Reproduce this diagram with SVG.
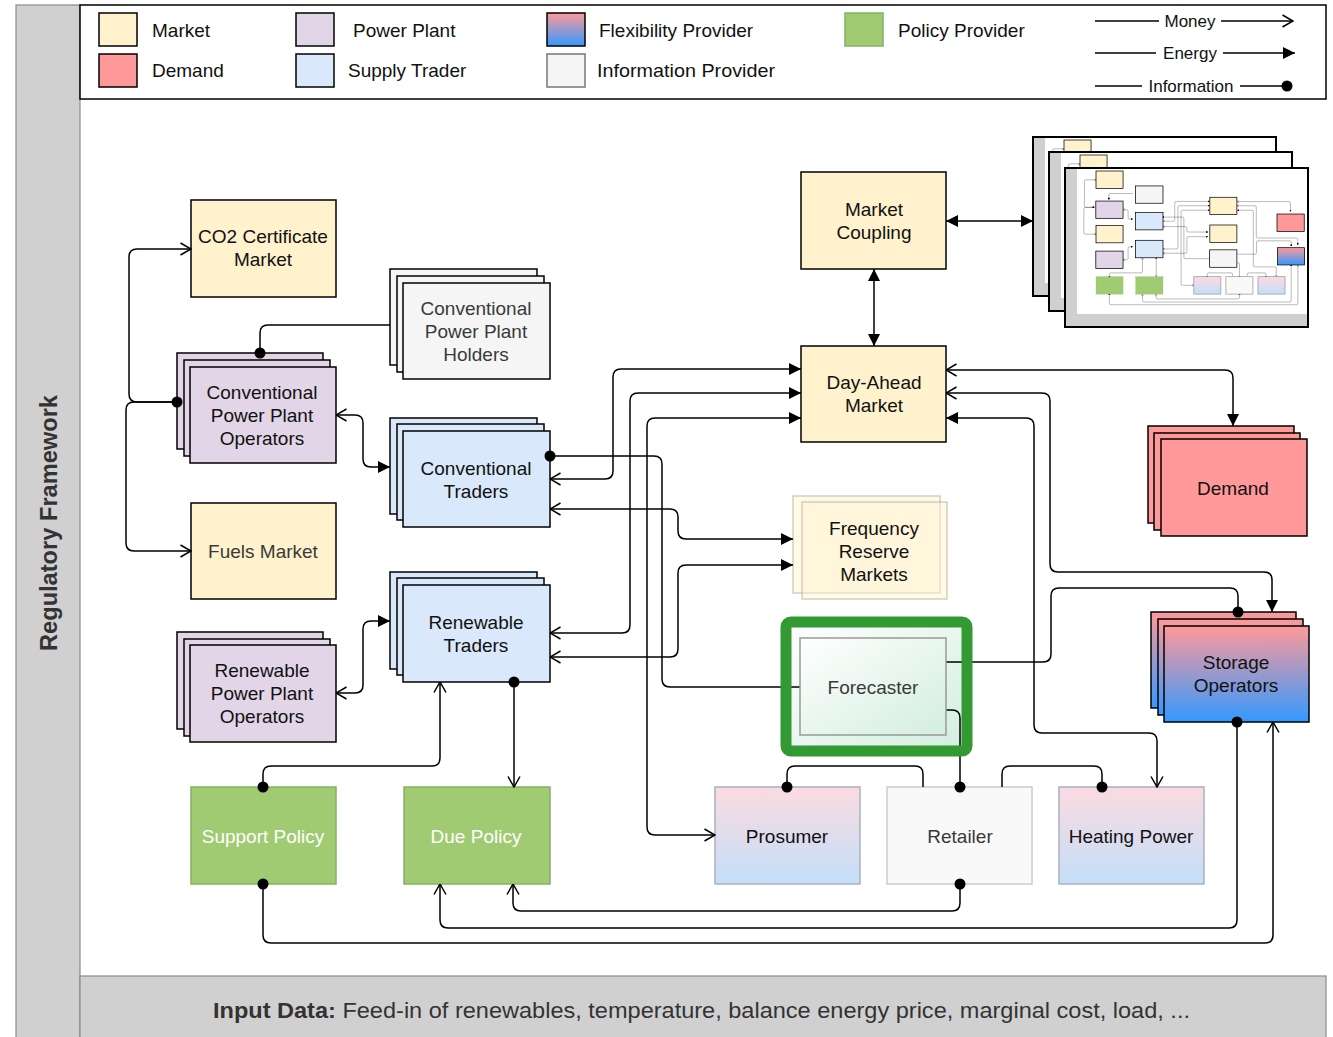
<svg xmlns="http://www.w3.org/2000/svg" xmlns:xlink="http://www.w3.org/1999/xlink" width="1333" height="1037" viewBox="0 0 1333 1037">
<style>
  text { font-family: "Liberation Sans", Arial, sans-serif; }
  .lbl { font-size: 19px; fill: #111; text-anchor: middle; }
  .gry { fill: #3a3a3a; }
  .wht { fill: #ffffff; }
  .leg { font-size: 19px; fill: #111; }
  .legs { font-size: 17px; fill: #111; text-anchor: middle; }
  .ln { fill: none; stroke: #000; stroke-width: 1.5; }
  .blk { stroke: #000; stroke-width: 1.5; }
  .mkt { fill: #fff2cc; }
  .pp { fill: #e1d5e7; }
  .st { fill: #dae8fc; }
  .dem { fill: #ff9999; }
  .pol { fill: #a0cb72; stroke: #82b366; stroke-width: 1.5; }
  .inf { fill: #f5f5f5; }
  .m { stroke: #000; stroke-width: 4; }
  .fa { marker-end: url(#fill); }
  .oa { marker-end: url(#open); }
  .dt { marker-end: url(#dot); }
  .sfa { marker-start: url(#fill); }
  .soa { marker-start: url(#open); }
  .sdt { marker-start: url(#dot); }
</style>
<defs>
  <marker id="fill" viewBox="0 0 12 12" refX="12" refY="6" markerWidth="12" markerHeight="12" markerUnits="userSpaceOnUse" orient="auto-start-reverse">
    <path d="M0,0 L12,6 L0,12 Z" fill="#000"/>
  </marker>
  <marker id="open" viewBox="0 0 12 14" refX="11.5" refY="7" markerWidth="12" markerHeight="14" markerUnits="userSpaceOnUse" orient="auto-start-reverse">
    <path d="M1,1 L11.5,7 L1,13" fill="none" stroke="#000" stroke-width="1.5"/>
  </marker>
  <marker id="dot" viewBox="0 0 12 12" refX="6" refY="6" markerWidth="12" markerHeight="12" markerUnits="userSpaceOnUse" orient="auto">
    <circle cx="6" cy="6" r="5.5" fill="#000"/>
  </marker>
  <linearGradient id="gFlex" x1="0" y1="0" x2="0" y2="1">
    <stop offset="0" stop-color="#ff9999"/>
    <stop offset="1" stop-color="#3399ff"/>
  </linearGradient>
  <linearGradient id="gSoft" x1="0" y1="0" x2="0" y2="1">
    <stop offset="0" stop-color="#fbdbe0"/>
    <stop offset="1" stop-color="#c4def9"/>
  </linearGradient>
  <linearGradient id="gFc" x1="0" y1="0" x2="1" y2="1">
    <stop offset="0" stop-color="#ffffff"/>
    <stop offset="1" stop-color="#d3eedf"/>
  </linearGradient>
  <g id="sheet">
    <rect x="0" y="0" width="243" height="159" fill="#fff"/>
    <rect x="0" y="0" width="12" height="159" fill="#d0d0d0"/>
    <rect x="12" y="146" width="231" height="13" fill="#d0d0d0"/>
    <g transform="translate(-4.64,-33) scale(0.1866,0.18)">
      <use xlink:href="#core-links"/>
      <rect class="mkt m" x="191" y="200" width="145" height="97"/>
      <rect class="inf m" x="403" y="283" width="147" height="96"/>
      <rect class="pp m" x="190" y="367" width="146" height="96"/>
      <rect class="st m" x="403" y="431" width="147" height="96"/>
      <rect class="mkt m" x="191" y="503" width="145" height="96"/>
      <rect class="pp m" x="190" y="645" width="146" height="97"/>
      <rect class="st m" x="403" y="585" width="147" height="97"/>
      <rect class="mkt m" x="801" y="346" width="145" height="96"/>
      <rect class="mkt m" x="801" y="500" width="145" height="97"/>
      <rect class="inf m" x="800" y="638" width="146" height="97"/>
      <rect class="dem m" x="1161" y="439" width="146" height="97"/>
      <rect class="m" fill="url(#gFlex)" x="1164" y="626" width="145" height="96"/>
      <rect class="pol" x="191" y="787" width="145" height="97"/>
      <rect class="pol" x="404" y="787" width="146" height="97"/>
      <rect fill="url(#gSoft)" stroke="#999" stroke-width="4" x="715" y="787" width="145" height="97"/>
      <rect fill="#f9f9f9" stroke="#999" stroke-width="4" x="887" y="787" width="145" height="97"/>
      <rect fill="url(#gSoft)" stroke="#999" stroke-width="4" x="1059" y="787" width="145" height="97"/>
    </g>
    <rect x="0" y="0" width="243" height="159" fill="none" stroke="#000" stroke-width="2"/>
  </g>
</defs>

<rect x="0" y="0" width="1333" height="1037" fill="#fff"/>

<!-- frame -->
<g id="frame">
  <rect x="16" y="5" width="64" height="1040" fill="#d0d0d0" stroke="#8a8a8a" stroke-width="1.2"/>
  <text transform="translate(57,523) rotate(-90)" text-anchor="middle" font-size="23" font-weight="bold" fill="#333" textLength="256" lengthAdjust="spacingAndGlyphs">Regulatory Framework</text>
  <rect x="80" y="976" width="1246" height="70" fill="#d0d0d0" stroke="#8a8a8a" stroke-width="1.2"/>
  <text x="213" y="1018" font-size="22" fill="#333" textLength="977" lengthAdjust="spacingAndGlyphs"><tspan font-weight="bold">Input Data:</tspan> Feed-in of renewables, temperature, balance energy price, marginal cost, load, ...</text>
</g>

<!-- legend -->
<g id="legend">
  <rect x="80" y="5" width="1246" height="94" fill="#fff" stroke="#000" stroke-width="1.5"/>
  <rect class="mkt blk" x="99" y="13" width="38" height="33"/>
  <text class="leg" x="152" y="37">Market</text>
  <rect class="dem blk" x="99" y="54" width="38" height="33"/>
  <text class="leg" x="152" y="77">Demand</text>
  <rect class="pp blk" x="296" y="13" width="38" height="33"/>
  <text class="leg" x="353" y="37">Power Plant</text>
  <rect class="st blk" x="296" y="54" width="38" height="33"/>
  <text class="leg" x="348" y="77">Supply Trader</text>
  <rect class="blk" fill="url(#gFlex)" x="547" y="13" width="38" height="33"/>
  <text class="leg" x="599" y="37">Flexibility Provider</text>
  <rect fill="#f5f5f5" stroke="#777" stroke-width="1.5" x="547" y="54" width="38" height="33"/>
  <text class="leg" x="597" y="77" textLength="178" lengthAdjust="spacingAndGlyphs">Information Provider</text>
  <rect class="pol" x="845" y="13" width="38" height="33"/>
  <text class="leg" x="898" y="37">Policy Provider</text>
  <path class="ln" d="M1095,21 H1159"/>
  <text class="legs" x="1190" y="27">Money</text>
  <path class="ln oa" d="M1221,21 H1293"/>
  <path class="ln" d="M1095,53 H1156"/>
  <text class="legs" x="1190" y="59">Energy</text>
  <path class="ln fa" d="M1223,53 H1295"/>
  <path class="ln" d="M1095,86 H1142"/>
  <text class="legs" x="1191" y="92">Information</text>
  <path class="ln dt" d="M1240,86 H1287"/>
</g>

<!-- nodes -->
<g id="node-co2">
  <rect class="mkt blk" x="191" y="200" width="145" height="97"/>
  <text class="lbl" x="263" y="243">CO2 Certificate</text>
  <text class="lbl" x="263" y="266">Market</text>
</g>
<g id="node-holders">
  <rect class="inf blk" x="390" y="269" width="147" height="96"/>
  <rect class="inf blk" x="397" y="276" width="147" height="96"/>
  <rect class="inf blk" x="403" y="283" width="147" height="96"/>
  <text class="lbl gry" x="476" y="315">Conventional</text>
  <text class="lbl gry" x="476" y="338">Power Plant</text>
  <text class="lbl gry" x="476" y="361">Holders</text>
</g>
<g id="node-cppo">
  <rect class="pp blk" x="177" y="353" width="146" height="96"/>
  <rect class="pp blk" x="184" y="360" width="146" height="96"/>
  <rect class="pp blk" x="190" y="367" width="146" height="96"/>
  <text class="lbl" x="262" y="399">Conventional</text>
  <text class="lbl" x="262" y="422">Power Plant</text>
  <text class="lbl" x="262" y="445">Operators</text>
</g>
<g id="node-convtraders">
  <rect class="st blk" x="390" y="418" width="147" height="96"/>
  <rect class="st blk" x="397" y="424" width="147" height="96"/>
  <rect class="st blk" x="403" y="431" width="147" height="96"/>
  <text class="lbl" x="476" y="475">Conventional</text>
  <text class="lbl" x="476" y="498">Traders</text>
</g>
<g id="node-fuels">
  <rect class="mkt blk" x="191" y="503" width="145" height="96"/>
  <text class="lbl gry" x="263" y="558">Fuels Market</text>
</g>
<g id="node-rppo">
  <rect class="pp blk" x="177" y="632" width="146" height="97"/>
  <rect class="pp blk" x="184" y="639" width="146" height="97"/>
  <rect class="pp blk" x="190" y="645" width="146" height="97"/>
  <text class="lbl" x="262" y="677">Renewable</text>
  <text class="lbl" x="262" y="700">Power Plant</text>
  <text class="lbl" x="262" y="723">Operators</text>
</g>
<g id="node-rentraders">
  <rect class="st blk" x="390" y="572" width="147" height="97"/>
  <rect class="st blk" x="397" y="578" width="147" height="97"/>
  <rect class="st blk" x="403" y="585" width="147" height="97"/>
  <text class="lbl" x="476" y="629">Renewable</text>
  <text class="lbl" x="476" y="652">Traders</text>
</g>
<g id="node-support">
  <rect class="pol" x="191" y="787" width="145" height="97"/>
  <text class="lbl wht" x="263" y="843">Support Policy</text>
</g>
<g id="node-due">
  <rect class="pol" x="404" y="787" width="146" height="97"/>
  <text class="lbl wht" x="476" y="843">Due Policy</text>
</g>
<g id="node-coupling">
  <rect class="mkt blk" x="801" y="172" width="145" height="97"/>
  <text class="lbl" x="874" y="216">Market</text>
  <text class="lbl" x="874" y="239">Coupling</text>
</g>
<g id="node-dayahead">
  <rect class="mkt blk" x="801" y="346" width="145" height="96"/>
  <text class="lbl" x="874" y="389">Day-Ahead</text>
  <text class="lbl" x="874" y="412">Market</text>
</g>
<g id="node-frm">
  <rect fill="#fff2cc" fill-opacity="0.45" stroke="#b8b0a0" stroke-opacity="0.6" stroke-width="1.5" x="793" y="496" width="147" height="97"/>
  <rect fill="#fff2cc" fill-opacity="0.45" stroke="#b8b0a0" stroke-opacity="0.6" stroke-width="1.5" x="802" y="502" width="145" height="97"/>
  <text class="lbl" x="874" y="535">Frequency</text>
  <text class="lbl" x="874" y="558">Reserve</text>
  <text class="lbl" x="874" y="581">Markets</text>
</g>
<g id="node-demand">
  <rect class="dem blk" x="1148" y="426" width="146" height="97"/>
  <rect class="dem blk" x="1154" y="433" width="146" height="97"/>
  <rect class="dem blk" x="1161" y="439" width="146" height="97"/>
  <text class="lbl" x="1233" y="495">Demand</text>
</g>
<g id="node-storage">
  <rect class="blk" fill="url(#gFlex)" x="1151" y="612" width="145" height="96"/>
  <rect class="blk" fill="url(#gFlex)" x="1158" y="619" width="145" height="96"/>
  <rect class="blk" fill="url(#gFlex)" x="1164" y="626" width="145" height="96"/>
  <text class="lbl" x="1236" y="669">Storage</text>
  <text class="lbl" x="1236" y="692">Operators</text>
</g>
<g id="node-prosumer">
  <rect fill="url(#gSoft)" stroke="#a9b0c4" stroke-width="1.5" x="715" y="787" width="145" height="97"/>
  <text class="lbl" x="787" y="843">Prosumer</text>
</g>
<g id="node-retailer">
  <rect fill="#f9f9f9" stroke="#cccccc" stroke-width="1.5" x="887" y="787" width="145" height="97"/>
  <text class="lbl gry" x="960" y="843">Retailer</text>
</g>
<g id="node-heating">
  <rect fill="url(#gSoft)" stroke="#a9b0c4" stroke-width="1.5" x="1059" y="787" width="145" height="97"/>
  <text class="lbl" x="1131" y="843">Heating Power</text>
</g>
<g id="node-thumbnail">
  <use xlink:href="#sheet" x="1033" y="137"/>
  <use xlink:href="#sheet" x="1049" y="152"/>
  <use xlink:href="#sheet" x="1065" y="168"/>
</g>
<g id="forecaster-bg">
  <rect x="786" y="622" width="181" height="129" fill="url(#gFc)"/>
</g>

<!-- connectors -->
<g id="connectors">
  <path class="ln sfa fa" d="M946,221 H1033"/>
  <path class="ln sfa fa" d="M874,269 V346"/>
  <g id="core-links">
    <path class="ln dt" d="M390,325 H268 Q260,325 260,333 V353"/>
    <path class="ln sdt oa" d="M177,402 H137 Q129,402 129,394 V257 Q129,249 137,249 H191"/>
    <path class="ln oa" d="M177,402 H134 Q126,402 126,410 V543 Q126,551 134,551 H191"/>
    <path class="ln soa fa" d="M336,415 H355 Q363,415 363,423 V459 Q363,467 371,467 H390"/>
    <path class="ln soa fa" d="M336,693 H355 Q363,693 363,685 V629 Q363,621 371,621 H390"/>
    <path class="ln sdt" d="M550,456 H654 Q662,456 662,464 V679 Q662,687 670,687 H800"/>
    <path class="ln soa fa" d="M550,479 H605 Q613,479 613,471 V377 Q613,369 621,369 H801"/>
    <path class="ln soa fa" d="M550,633 H622 Q630,633 630,625 V401 Q630,393 638,393 H801"/>
    <path class="ln soa fa" d="M715,835 H655 Q647,835 647,827 V426 Q647,418 655,418 H801"/>
    <path class="ln soa fa" d="M550,509 H670 Q678,509 678,517 V531 Q678,539 686,539 H793"/>
    <path class="ln soa fa" d="M550,657 H670 Q678,657 678,649 V573 Q678,565 686,565 H793"/>
    <path class="ln soa fa" d="M946,370 H1225 Q1233,370 1233,378 V426"/>
    <path class="ln soa fa" d="M946,393 H1042 Q1050,393 1050,401 V564 Q1050,572 1058,572 H1264 Q1272,572 1272,580 V612"/>
    <path class="ln sfa oa" d="M946,418 H1026 Q1034,418 1034,426 V725 Q1034,733 1042,733 H1149 Q1157,733 1157,741 V787"/>
    <path class="ln dt" d="M946,662 H1043 Q1051,662 1051,654 V596 Q1051,588 1059,588 H1230 Q1238,588 1238,596 V612"/>
    <path class="ln dt" d="M946,710 H952 Q960,710 960,718 V787"/>
    <path class="ln dt" d="M923,787 V774 Q923,766 915,766 H795 Q787,766 787,774 V787"/>
    <path class="ln dt" d="M1002,787 V774 Q1002,766 1010,766 H1094 Q1102,766 1102,774 V787"/>
    <path class="ln sdt oa" d="M960,884 V903 Q960,911 952,911 H521 Q513,911 513,903 V884"/>
    <path class="ln sdt oa" d="M1237,722 V920 Q1237,928 1229,928 H448 Q440,928 440,920 V884"/>
    <path class="ln sdt oa" d="M263,884 V935 Q263,943 271,943 H1265 Q1273,943 1273,935 V722"/>
    <path class="ln sdt oa" d="M263,787 V774 Q263,766 271,766 H432 Q440,766 440,758 V682"/>
    <path class="ln sdt oa" d="M514,682 V787"/>
  </g>
</g>

<g id="node-forecaster">
  <rect x="786" y="622" width="181" height="129" rx="5" fill="none" stroke="#339933" stroke-width="11"/>
  <rect x="800" y="638" width="146" height="97" fill="url(#gFc)" stroke="#999" stroke-width="1.5"/>
  <text class="lbl gry" x="873" y="694">Forecaster</text>
</g>
</svg>
